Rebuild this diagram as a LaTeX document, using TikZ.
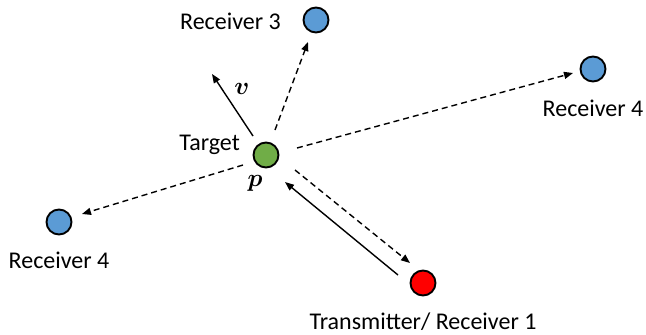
\documentclass[tikz,border=0pt]{standalone}
\usepackage{fontspec}
\usepackage{bm}
\setmainfont{Carlito}
\usetikzlibrary{arrows.meta}
\definecolor{tgtgreen}{RGB}{112,173,71}
\definecolor{rxblue}{RGB}{91,155,213}
\begin{document}
\begin{tikzpicture}[x=1pt,y=-1pt,
  dot/.style={circle,draw=black,line width=1.9pt,minimum size=25pt,inner sep=0pt},
  lbl/.style={font=\fontsize{24}{28}\selectfont,inner sep=0pt},
  sym/.style={font=\fontsize{24}{28}\selectfont,inner sep=0pt},
  sig/.style={line width=1.4pt,-{Triangle[length=9pt,width=7pt]}},
  echo/.style={sig,dash pattern=on 6pt off 4pt}]
\useasboundingbox (0,0) rectangle (646,335);
% stations
\node[dot,fill=tgtgreen] (tgt) at (266,155) {};
\node[dot,fill=rxblue] (rx3) at (316,20) {};
\node[dot,fill=rxblue] (rx4r) at (593,69) {};
\node[dot,fill=rxblue] (rx4l) at (59,222) {};
\node[dot,fill=red] (tx) at (423,283) {};
% labels
\node[lbl,anchor=east] (l3) at (281,21) {Receiver 3};
\node[lbl] (l4r) at (593,108) {Receiver 4};
\node[lbl] (l4l) at (59,260) {Receiver 4};
\node[lbl,anchor=east] (lt) at (240,145) {Target};
\node[lbl] (ltx) at (423,322) {Transmitter/ Receiver 1};
\node[sym] (lp) at (255,183) {$\bm{p}$};
\node[sym] (lv) at (242,89) {$\bm{v}$};
% velocity
\coordinate (vs) at (253,136);
\coordinate (ve) at (212,74);
\draw[sig] (vs) -- (ve);
% transmitted and scattered signals
\draw[sig] ([shift={(-25,-8)}]tx.center) -- ([shift={(19,27)}]tgt.center);
\draw[echo] ([shift={(29,15)}]tgt.center) -- ([shift={(-13,-20)}]tx.center);
\draw[echo] ([shift={(9,-25)}]tgt.center) -- ([shift={(-8,22)}]rx3.center);
\draw[echo] ([shift={(31,-7)}]tgt.center) -- ([shift={(-20,4)}]rx4r.center);
\draw[echo] ([shift={(-23,10)}]tgt.center) -- ([shift={(23,-8)}]rx4l.center);
\end{tikzpicture}
\end{document}
